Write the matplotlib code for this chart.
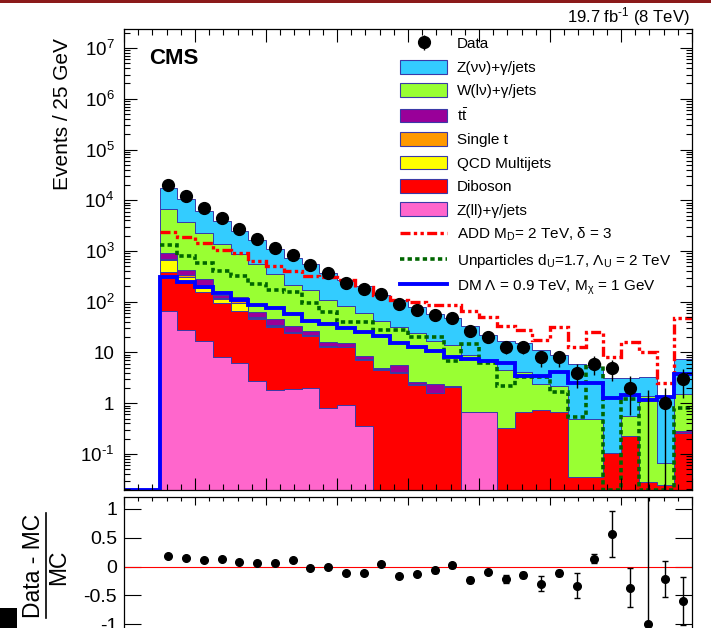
import numpy as np
import matplotlib.pyplot as plt
from matplotlib.patches import Rectangle, Patch
from matplotlib.lines import Line2D
from matplotlib.ticker import FixedLocator, FixedFormatter, MultipleLocator, LogLocator, NullFormatter

plt.rcParams['font.family'] = ['Liberation Sans', 'DejaVu Sans']
plt.rcParams['mathtext.fontset'] = 'custom'
plt.rcParams['mathtext.rm'] = 'Liberation Sans'
plt.rcParams['mathtext.it'] = 'Liberation Sans:italic'
plt.rcParams['mathtext.bf'] = 'Liberation Sans:bold'
plt.rcParams['axes.unicode_minus'] = False

# MET bins, 25 GeV wide, 250 - 1000 GeV
edges = np.arange(250, 1001, 25)
sig_edges = np.arange(200, 1001, 25)

data = np.array([20300, 12100, 7030, 4400, 2670, 1750, 1160, 822, 530, 363,
                 238, 181, 144, 90, 69, 54, 48, 26, 20, 13,
                 13, 8, 8, 4, 6, 5, 2, 0, 1, 3])

# backgrounds (stack order bottom -> top)
zll = np.array([65, 28, 17, 8.3, 6.3, 2.7, 1.8, 1.9, 2.0, 0.82,
                0.92, 0.35, 0, 0, 0, 0, 0, 0.68, 0.68, 0,
                0, 0, 0, 0, 0, 0, 0, 0, 0, 0])
diboson = np.array([327, 232, 138, 88, 60, 44, 29.5, 22, 19, 12,
                    11.7, 6.9, 4.5, 3.9, 2.3, 1.6, 2.1, 0, 0, 0.33,
                    0.67, 0.72, 0.67, 0.035, 0.035, 0.106, 0.23, 0.028, 0.025, 0.26])
qcd = np.array([280, 50, 35, 15, 30, 2, 2, 1, 0.5, 0.3,
                0.2, 0.1, 0.1, 0.1, 0.05, 0, 0, 0, 0, 0,
                0, 0, 0, 0, 0, 0, 0, 0, 0, 0])
singlet = np.array([15, 20, 10, 5, 5, 2, 1.5, 1, 0.5, 0.3,
                    0.2, 0.1, 0.1, 0.1, 0.05, 0, 0, 0, 0, 0,
                    0, 0, 0, 0, 0, 0, 0, 0, 0, 0])
ttbar = np.array([242, 87, 80, 20, 25, 13, 11, 8, 5, 2.6,
                  2.5, 1.2, 0.3, 1.6, 0.2, 0.8, 0.1, 0, 0, 0,
                  0, 0, 0, 0, 0, 0, 0, 0, 0, 0.03])
wlnu = np.array([5691, 3368, 2016, 1238, 747, 491, 306, 180, 144, 92,
                 66.5, 52.4, 36, 26.3, 21.4, 14.6, 11.8, 8.2, 6.3, 4.2,
                 3.4, 1.7, 1.5, 0.45, 0.45, 0, 0.33, 1.37, 0.04, 1.2])
znn = np.array([10580, 6735, 3984, 2516, 1597, 1095, 742, 526, 375, 259,
                185, 142, 97, 75, 55, 41, 33, 25, 15, 12,
                11.2, 9.0, 6.8, 5.5, 4.8, 3.1, 2.6, 1.9, 1.2, 6.0])

# signals
add = np.array([2400, 1915, 1416, 1047, 900, 645, 506, 410, 322, 303,
                268, 198, 136, 108, 100, 88, 86, 66, 50, 34,
                28, 17.6, 32, 13, 25.7, 8.3, 16.3, 10.4, 2.5, 47])
unpart = np.array([1313, 797, 589, 410, 321, 224, 171, 158, 96, 64,
                   39, 39, 27.7, 27.7, 20.5, 20.5, 6.8, 14.5, 6.1, 2.2,
                   3.3, 3.3, 1.7, 0.54, 5.7, 0, 1.2, 0, 0, 0.8])
dm = np.array([0, 0, 312, 249, 192, 151, 108, 86, 74, 57, 42, 36,
               31, 25.7, 21, 15.2, 12.6, 10.9, 8.3, 7.3, 6.9, 6.3,
               3.4, 3.4, 4.2, 2.5, 2.5, 1.25, 1.45, 1.16, 1.35, 3.8])

# ratio uncertainties
ratio_err_lo = np.array([0.01, 0.01, 0.012, 0.015, 0.02, 0.02, 0.02, 0.025, 0.03, 0.03,
                         0.03, 0.035, 0.04, 0.035, 0.035, 0.04, 0.04, 0.05, 0.035, 0.065,
                         0.05, 0.13, 0.055, 0.22, 0.08, 0.4, 0.34, 0, 0.31, 0.41])
ratio_err_hi = np.array([0.01, 0.01, 0.012, 0.015, 0.02, 0.02, 0.02, 0.025, 0.03, 0.03,
                         0.03, 0.035, 0.04, 0.035, 0.035, 0.04, 0.04, 0.05, 0.035, 0.065,
                         0.05, 0.13, 0.055, 0.22, 0.08, 0.4, 0.34, 3.0, 0.31, 0.41])

ylo, yhi = 0.0195, 2.37e7
edgecol = '#3a3aa8'

fig = plt.figure(figsize=(7.11, 6.28), dpi=100)
ax = fig.add_axes([124/711, 138/628, 568/711, 461/628])
axr = fig.add_axes([124/711, -8/628, 568/711, 139/628])

ax.set_yscale('log')
stack = [(zll, '#ff66cc', 'Z(ll)+γ/jets'),
         (diboson, '#ff0000', 'Diboson'),
         (qcd, '#ffff00', 'QCD Multijets'),
         (singlet, '#ff9900', 'Single t'),
         (ttbar, '#990099', 't$\\mathrm{\\bar{t}}$'),
         (wlnu, '#99ff33', 'W(lν)+γ/jets'),
         (znn, '#33ccff', 'Z(νν)+γ/jets')]
lower = np.zeros(len(data))
for vals, col, lab in stack:
    upper = lower + vals
    ax.stairs(np.maximum(upper, 1e-4), edges, baseline=np.maximum(lower, 1e-4), fill=True,
              facecolor=col, edgecolor=edgecol, lw=0.7)
    lower = upper
mc_total = lower

ax.stairs(add, edges, baseline=None, color='#ff0000', lw=2.4, linestyle=(0, (3, 1, 1, 1, 1, 1)))
ax.stairs(np.maximum(unpart, ylo), edges, baseline=None, color='#006600', lw=2.6, linestyle=(0, (1.2, 0.9)))
ax.stairs(np.maximum(dm, ylo), sig_edges, baseline=None, color='#0000ff', lw=2.8)

centers = 0.5 * (edges[:-1] + edges[1:])
err_hi = np.where(data > 0, np.sqrt(data), 1.84)
err_lo = np.sqrt(data)
hdata = ax.errorbar(centers, data, yerr=[err_lo, err_hi], fmt='o', color='k', ms=8.5, lw=1, capsize=0, zorder=5)

ax.set_xlim(200, 1000)
ax.set_ylim(ylo, yhi)
ax.yaxis.set_major_locator(FixedLocator([0.1, 1, 10, 1e2, 1e3, 1e4, 1e5, 1e6, 1e7]))
ax.yaxis.set_major_formatter(FixedFormatter(['10$^{\\text{-}1}$', '1', '10', '10$^{2}$', '10$^{3}$', '10$^{4}$',
                                             '10$^{5}$', '10$^{6}$', '10$^{7}$']))
ax.yaxis.set_minor_locator(LogLocator(base=10, subs=np.arange(2, 10), numticks=20))
ax.yaxis.set_minor_formatter(NullFormatter())
ax.xaxis.set_major_locator(MultipleLocator(100))
ax.xaxis.set_minor_locator(MultipleLocator(20))
ax.tick_params(axis='both', which='both', direction='in', top=True, right=True)
ax.tick_params(axis='both', which='major', length=9, width=0.8, labelsize=13.5, pad=7)
ax.tick_params(axis='both', which='minor', length=4.5, width=0.8)
ax.tick_params(axis='x', labelbottom=False)
for s in ax.spines.values():
    s.set_linewidth(0.9)

ax.text(0.045, 0.935, 'CMS', transform=ax.transAxes, fontsize=16, fontweight='bold', va='center', ha='left')
fig.text(690/711, 1 - 22/628, '19.7 fb$^{\\text{-}1}$ (8 TeV)', fontsize=12, ha='right', va='baseline')
fig.text(62/711, 1 - 38/628, 'Events / 25 GeV', rotation=90, fontsize=15, ha='center', va='top')

handles = [hdata]
labels = ['Data']
for vals, col, lab in stack[::-1]:
    handles.append(Patch(facecolor=col, edgecolor=edgecol, lw=0.8))
    labels.append(lab)
handles += [Line2D([], [], color='#ff0000', lw=2.4, linestyle=(0, (3, 1, 1, 1, 1, 1))),
            Line2D([], [], color='#006600', lw=2.6, linestyle=(0, (1.2, 0.9))),
            Line2D([], [], color='#0000ff', lw=2.8)]
labels += ['ADD M$_\\mathrm{D}$= 2 TeV, δ = 3',
           'Unparticles d$_\\mathrm{U}$=1.7, Λ$_\\mathrm{U}$ = 2 TeV',
           'DM Λ = 0.9 TeV, M$_\\mathrm{χ}$ = 1 GeV']
ax.legend(handles, labels, loc='upper left', bbox_to_anchor=(0.486, 0.984), frameon=False, fontsize=11,
          handlelength=3.1, handleheight=1.0, labelspacing=0.55, handletextpad=0.6,
          borderpad=0, borderaxespad=0)

# ratio panel
ratio = data / mc_total - 1
axr.axhline(0, color='#ff0000', lw=0.8)
axr.errorbar(centers, ratio, yerr=[ratio_err_lo, ratio_err_hi], fmt='o', color='k', ms=5.5, lw=1,
             capsize=2.5, capthick=1)
axr.set_xlim(200, 1000)
axr.set_ylim(-1.2, 1.2)
axr.yaxis.set_major_locator(FixedLocator([-1, -0.5, 0, 0.5, 1]))
axr.yaxis.set_major_formatter(FixedFormatter(['-1', '-0.5', '0', '0.5', '1']))
axr.xaxis.set_major_locator(MultipleLocator(100))
axr.xaxis.set_minor_locator(MultipleLocator(20))
axr.tick_params(axis='both', which='both', direction='in', top=True, right=True)
axr.tick_params(axis='y', which='major', length=12, width=0.8, labelsize=14, pad=5)
axr.tick_params(axis='x', which='major', length=6, width=0.8)
axr.tick_params(axis='x', which='minor', length=3, width=0.8)
axr.tick_params(axis='x', labelbottom=False)
for s in axr.spines.values():
    s.set_linewidth(0.9)

fig.text(33/711, 1 - 566/628, 'Data - MC', rotation=90, fontsize=16.5, ha='center', va='center')
fig.text(59/711, 1 - 567/628, 'MC', rotation=90, fontsize=16.5, ha='center', va='center')
fig.add_artist(Line2D([46/711, 46/711], [1 - 513/628, 1 - 618/628], color='k', lw=1.2, transform=fig.transFigure))

# frame decorations of the original page
fig.add_artist(Rectangle((0, 1 - 3/628), 1, 3/628, transform=fig.transFigure, color='#8b1a1a', lw=0))
fig.add_artist(Rectangle((0, 0), 17/711, 20/628, transform=fig.transFigure, color='k', lw=0))

fig.savefig('out.png', dpi=100)
